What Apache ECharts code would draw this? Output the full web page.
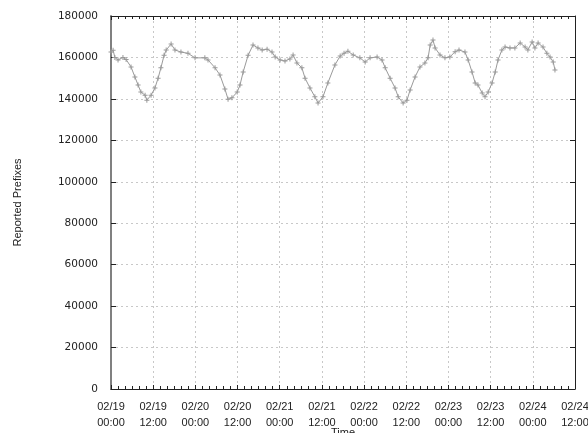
<!DOCTYPE html>
<html>
<head>
<meta charset="utf-8">
<script src="https://cdn.jsdelivr.net/npm/echarts@6/dist/echarts.min.js"></script>
<style>html,body{margin:0;padding:0;background:#fff}#c{width:588px;height:433px}</style>
</head>
<body>
<div id="c"></div>
<script>
// hours since 02/19 00:00
var hours = [0, 0.6, 1.1, 2.0, 3.4, 4.3, 5.7, 6.8, 7.7, 8.5, 9.7, 10.2, 11.4, 12.5, 13.4, 14.2, 15.1, 15.7, 17.1, 18.2, 19.9, 21.9, 23.9, 26.7, 27.6, 29.6, 31.0, 32.4, 33.3, 34.4, 35.9, 36.7, 37.6, 39.0, 40.4, 41.8, 43.0, 44.4, 45.8, 46.7, 48.1, 49.5, 50.9, 51.8, 52.9, 54.3, 55.2, 56.6, 58.0, 58.9, 60.3, 61.7, 63.7, 65.2, 66.3, 67.4, 68.9, 70.8, 72.3, 73.7, 75.7, 77.1, 78.0, 79.4, 80.8, 81.7, 83.1, 84.2, 85.1, 86.5, 87.9, 89.3, 90.2, 90.8, 91.6, 92.2, 93.6, 95.0, 96.4, 97.9, 99.0, 100.7, 101.6, 102.7, 103.6, 104.4, 105.6, 106.4, 107.3, 108.4, 109.3, 110.1, 111.2, 112.1, 113.5, 114.9, 116.4, 117.8, 118.6, 119.8, 120.6, 121.5, 122.9, 124.0, 124.9, 125.8, 126.3];
var prefixes = [162600, 163500, 160000, 158800, 160000, 159000, 155400, 150600, 146700, 143300, 141800, 139400, 141800, 145300, 150000, 155000, 161000, 163600, 166500, 163600, 162600, 162000, 159800, 159800, 158800, 155000, 151500, 144800, 139800, 140500, 143300, 146700, 153000, 161000, 166000, 164600, 163600, 164000, 162600, 160200, 158800, 158300, 159300, 161200, 157300, 155000, 150000, 145300, 141000, 138000, 141000, 147700, 156400, 160700, 162000, 163000, 161200, 159800, 157800, 159800, 160200, 158800, 155000, 150000, 145300, 141000, 138000, 139400, 144300, 150600, 155400, 157300, 159800, 166000, 168400, 164600, 161200, 159800, 160200, 162800, 163600, 162600, 158800, 153000, 147700, 146700, 142800, 141000, 143300, 147700, 153000, 158800, 163600, 165000, 164600, 164600, 167000, 165000, 163600, 167500, 164600, 167000, 165000, 162000, 160200, 157800, 154000];
var startDay = 19;
var xMaxHours = 132;
var yTicks = [0, 20000, 40000, 60000, 80000, 100000, 120000, 140000, 160000, 180000];

var data = hours.map(function (h, i) { return [h, prefixes[i]]; });
function pad(n) { return (n < 10 ? '0' : '') + n; }
function fmtX(v) {
  var d = startDay + Math.floor(v / 24);
  var h = v % 24;
  return '02/' + pad(d) + '\n' + pad(h) + ':00';
}
var plus = 'path://M2,0h1v2h2v1h-2v2h-1v-2h-2v-1h2z';
var chart = echarts.init(document.getElementById('c'));
var grid = { left: 111, right: 13, top: 16, bottom: 44, containLabel: false, outerBoundsMode: 'none' };
chart.setOption({
  animation: false,
  backgroundColor: '#fff',
  grid: grid,
  xAxis: [{
    type: 'value', min: 0, max: xMaxHours, interval: 12,
    name: 'Time', nameLocation: 'middle', nameGap: 38, nameMoveOverlap: false,
    nameTextStyle: { fontFamily: 'Liberation Sans', fontSize: 11, color: '#222' },
    axisLine: { show: true, onZero: false, lineStyle: { color: '#222', width: 1 } },
    axisTick: { show: true, inside: true, length: 4, lineStyle: { color: '#222' } },
    minorTick: { show: true, splitNumber: 6, length: 3, lineStyle: { color: '#222' } },
    axisLabel: { formatter: fmtX, fontFamily: 'Liberation Sans', fontSize: 11, color: '#222', margin: 10, lineHeight: 16, showMaxLabel: true, showMinLabel: true },
    splitLine: { show: true, lineStyle: { color: '#c8c8c8', type: [2, 3], width: 1 } }
  }, {
    type: 'value', min: 0, max: xMaxHours, interval: 12, position: 'top',
    axisLine: { show: true, onZero: false, lineStyle: { color: '#222', width: 1 } },
    axisTick: { show: true, inside: true, length: 4, lineStyle: { color: '#222' } },
    minorTick: { show: true, splitNumber: 6, length: 3, lineStyle: { color: '#222' } },
    axisLabel: { show: false },
    splitLine: { show: false }
  }],
  yAxis: [{
    type: 'value', min: 0, max: 180000, interval: 20000,
    name: 'Reported Prefixes', nameLocation: 'middle', nameGap: 88, nameMoveOverlap: false,
    nameTextStyle: { fontFamily: 'Liberation Sans', fontSize: 11, color: '#222' },
    axisLine: { show: true, onZero: false, lineStyle: { color: '#808080', width: 2 } },
    axisTick: { show: true, inside: true, length: 5, lineStyle: { color: '#222' } },
    axisLabel: { formatter: function (v) { return String(v); }, fontFamily: 'DejaVu Sans', fontSize: 10.5, color: '#222', margin: 13 },
    splitLine: { show: true, lineStyle: { color: '#c8c8c8', type: [2, 3], width: 1 } }
  }, {
    type: 'value', min: 0, max: 180000, interval: 20000, position: 'right',
    axisLine: { show: true, onZero: false, lineStyle: { color: '#222', width: 1 } },
    axisTick: { show: true, inside: true, length: 5, lineStyle: { color: '#222' } },
    axisLabel: { show: false },
    splitLine: { show: false }
  }],
  series: [{
    type: 'line',
    data: data,
    xAxisIndex: 0, yAxisIndex: 0,
    symbol: plus, symbolSize: 5, showSymbol: true,
    itemStyle: { color: '#9a9a9a' },
    lineStyle: { color: '#9a9a9a', width: 1 }
  }]
});
</script>
</body>
</html>
